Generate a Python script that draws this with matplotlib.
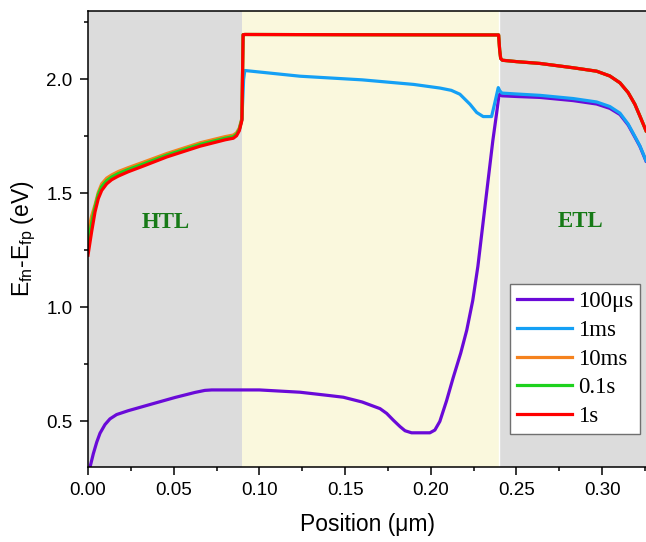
import numpy as np
import matplotlib
matplotlib.use('Agg')
import matplotlib.pyplot as plt
from matplotlib.ticker import MultipleLocator, FormatStrFormatter

plt.rcParams['font.family'] = ['Liberation Sans', 'DejaVu Sans']
plt.rcParams['mathtext.fontset'] = 'custom'
plt.rcParams['mathtext.rm'] = 'Liberation Sans'
plt.rcParams['mathtext.default'] = 'regular'

# ---- data ----
labels = ['100\u03bcs', '1ms', '10ms', '0.1s', '1s']
colors = ['#6a0ad8', '#14a0f5', '#f5821e', '#1ed21e', '#ff0000']

# HTL part (0 .. 0.09 um)
x_htl = [0, 0.0021, 0.0041, 0.006, 0.008, 0.0109, 0.0138, 0.0177, 0.0235, 0.0323,
         0.046, 0.0654, 0.08, 0.0848, 0.0867, 0.0883, 0.0898]
htl_1s = [1.229, 1.331, 1.419, 1.477, 1.513, 1.542, 1.560, 1.576, 1.595, 1.620,
          1.660, 1.707, 1.735, 1.742, 1.753, 1.775, 1.82]
htl_01s = [1.28, 1.37, 1.44, 1.495, 1.53, 1.556, 1.572, 1.587, 1.605, 1.629,
           1.668, 1.715, 1.742, 1.749, 1.760, 1.781, 1.825]
htl_10ms = [1.33, 1.40, 1.45, 1.505, 1.542, 1.567, 1.581, 1.596, 1.613, 1.637,
            1.675, 1.722, 1.749, 1.756, 1.766, 1.787, 1.83]
htl_1ms = [1.28, 1.37, 1.44, 1.495, 1.53, 1.556, 1.572, 1.587, 1.605, 1.629,
           1.668, 1.715, 1.742, 1.749, 1.760, 1.781, 1.825]

# absorber + ETL for 10ms / 0.1s / 1s (they overlap)
x_rest_hi = [0.0905, 0.0915, 0.15, 0.2396, 0.2402, 0.2408, 0.2418, 0.25, 0.2637,
             0.2831, 0.2968, 0.3045, 0.3104, 0.3152, 0.3191, 0.322, 0.3256]
rest_1s = [2.196, 2.197, 2.196, 2.195, 2.13, 2.092, 2.084, 2.078, 2.07,
           2.051, 2.036, 2.015, 1.985, 1.942, 1.891, 1.84, 1.775]

# absorber + ETL for 1ms
x_rest_1ms = [0.0908, 0.0915, 0.1237, 0.16, 0.19, 0.2054, 0.212, 0.217, 0.2229,
              0.2268, 0.2306, 0.2355, 0.2374, 0.2394, 0.2403, 0.2415, 0.25, 0.2637,
              0.2831, 0.2968, 0.3045, 0.3104, 0.3152, 0.3191, 0.322, 0.3256]
rest_1ms = [2.0, 2.039, 2.014, 1.998, 1.978, 1.962, 1.952, 1.935, 1.891,
            1.855, 1.837, 1.837, 1.898, 1.964, 1.95, 1.94, 1.936, 1.930,
            1.916, 1.901, 1.881, 1.852, 1.804, 1.75, 1.709, 1.644]

# 100us over the whole device
x_100us = [0, 0.0012, 0.0031, 0.0051, 0.007, 0.0099, 0.0128, 0.0167, 0.0235, 0.0371,
           0.0508, 0.0624, 0.0682, 0.0722, 0.08, 0.10, 0.1237, 0.1412, 0.149, 0.16,
           0.1704, 0.1743, 0.1782, 0.1821, 0.185, 0.1888, 0.1995, 0.2024, 0.2053,
           0.2092, 0.2131, 0.2175, 0.221, 0.2245, 0.2275, 0.2305, 0.2335, 0.2362,
           0.2384, 0.2398, 0.2405,
           0.2415, 0.25, 0.2637, 0.2831, 0.2968, 0.3045, 0.3104, 0.3152, 0.3191,
           0.322, 0.3256]
y_100us = [0.22, 0.30, 0.358, 0.409, 0.448, 0.486, 0.511, 0.530, 0.547, 0.576,
           0.605, 0.627, 0.636, 0.638, 0.638, 0.638, 0.628, 0.613, 0.606, 0.585,
           0.556, 0.535, 0.505, 0.477, 0.459, 0.450, 0.450, 0.462, 0.50,
           0.59, 0.692, 0.80, 0.90, 1.03, 1.18, 1.37, 1.56, 1.73,
           1.85, 1.93, 1.937,
           1.928, 1.925, 1.921, 1.907, 1.892, 1.873, 1.846, 1.800, 1.747,
           1.707, 1.642]

series_x = [x_100us, x_htl + x_rest_1ms, x_htl + x_rest_hi, x_htl + x_rest_hi, x_htl + x_rest_hi]
series_y = [y_100us, htl_1ms + rest_1ms, htl_10ms + rest_1s, htl_01s + rest_1s, htl_1s + rest_1s]

fig = plt.figure(figsize=(6.46, 5.42), dpi=100)
ax = fig.add_axes([88 / 646, 75 / 542, 1 - 88 / 646, 456 / 542])

# layer regions
ax.axvspan(0, 0.09, color='#dcdcdc', lw=0, zorder=0)
ax.axvspan(0.09, 0.24, color='#faf8dd', lw=0, zorder=0)
ax.axvspan(0.24, 0.33, color='#dcdcdc', lw=0, zorder=0)
ax.axvline(0.24, color='white', lw=1, zorder=0.5)

for xs, ys, c, lab in zip(series_x, series_y, colors, labels):
    ax.plot(xs, ys, color=c, lw=2.3, label=lab, solid_joinstyle='round')

ax.text(0.0455, 1.372, 'HTL', family='Liberation Serif', weight='bold',
        fontsize=16.5, color='#177a17', ha='center', va='center')
ax.text(0.2874, 1.376, 'ETL', family='Liberation Serif', weight='bold',
        fontsize=16.5, color='#177a17', ha='center', va='center')

ax.set_xlim(0, 0.3256)
ax.set_ylim(0.3, 2.3)
ax.xaxis.set_major_locator(MultipleLocator(0.05))
ax.xaxis.set_minor_locator(MultipleLocator(0.025))
ax.yaxis.set_major_locator(MultipleLocator(0.5))
ax.yaxis.set_minor_locator(MultipleLocator(0.25))
ax.xaxis.set_major_formatter(FormatStrFormatter('%.2f'))
ax.yaxis.set_major_formatter(FormatStrFormatter('%.1f'))
ax.tick_params(which='major', direction='out', length=6, width=1.1, labelsize=13.5, pad=5)
ax.tick_params(which='minor', direction='out', length=3, width=1.1)
for s in ['left', 'bottom', 'top']:
    ax.spines[s].set_linewidth(1.1)
ax.spines['right'].set_visible(False)

ax.set_xlabel('Position (\u03bcm)', fontsize=16.5, labelpad=10)
ax.set_ylabel('E$_{fn}$-E$_{fp}$ (eV)', fontsize=16.5, labelpad=6)

leg = ax.legend(loc='upper right', bbox_to_anchor=(640 / 646, 1 - 284 / 542),
                bbox_transform=fig.transFigure, borderaxespad=0,
                prop={'family': 'Liberation Serif', 'size': 16.5},
                handlelength=2.4, handletextpad=0.25, labelspacing=0.34,
                borderpad=0.3, fancybox=False, framealpha=1, edgecolor='#707070')
leg.get_frame().set_linewidth(1.0)

fig.savefig('out.png', dpi=100)
